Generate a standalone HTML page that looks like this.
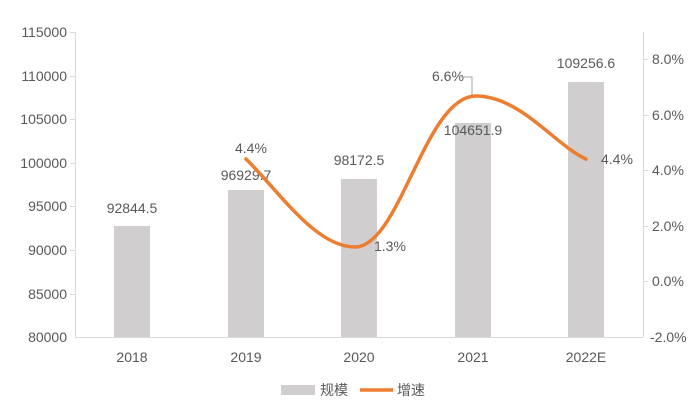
<!DOCTYPE html>
<html><head><meta charset="utf-8"><style>
body{margin:0;background:#fff}
svg text{font-family:"Liberation Sans","Noto Sans CJK SC",sans-serif;fill:#595959;font-size:14px}
</style></head><body>
<svg width="698" height="411" xmlns="http://www.w3.org/2000/svg">
<g stroke="#d9d9d9" stroke-width="1">
<line x1="75.5" y1="32" x2="75.5" y2="337"/>
<line x1="643.5" y1="32" x2="643.5" y2="337"/>
<line x1="75" y1="337.5" x2="643" y2="337.5"/>
<line x1="70" y1="32.5" x2="75" y2="32.5"/><line x1="70" y1="76.5" x2="75" y2="76.5"/><line x1="70" y1="119.5" x2="75" y2="119.5"/><line x1="70" y1="163.5" x2="75" y2="163.5"/><line x1="70" y1="206.5" x2="75" y2="206.5"/><line x1="70" y1="250.5" x2="75" y2="250.5"/><line x1="70" y1="294.5" x2="75" y2="294.5"/>
<line x1="643" y1="59.5" x2="648" y2="59.5"/><line x1="643" y1="115.5" x2="648" y2="115.5"/><line x1="643" y1="170.5" x2="648" y2="170.5"/><line x1="643" y1="226.5" x2="648" y2="226.5"/><line x1="643" y1="281.5" x2="648" y2="281.5"/>
</g>
<g fill="#d0cece">
<rect x="114" y="226" width="36" height="111"/>
<rect x="228" y="190" width="36" height="147"/>
<rect x="341" y="179" width="36" height="158"/>
<rect x="455" y="123" width="36" height="214"/>
<rect x="568" y="82" width="36" height="255"/>
</g>
<g text-anchor="end">
<text x="67" y="37">115000</text><text x="67" y="81">110000</text><text x="67" y="124">105000</text><text x="67" y="168">100000</text><text x="67" y="211">95000</text><text x="67" y="255">90000</text><text x="67" y="299">85000</text><text x="67" y="342">80000</text>
</g>
<g>
<text x="652" y="64">8.0%</text><text x="652" y="120">6.0%</text><text x="652" y="175">4.0%</text><text x="652" y="231">2.0%</text><text x="652" y="286">0.0%</text><text x="650" y="342">-2.0%</text>
</g>
<g text-anchor="middle">
<text x="132" y="362">2018</text><text x="246" y="362">2019</text><text x="359" y="362">2020</text><text x="473" y="362">2021</text><text x="586" y="362">2022E</text>
<text x="132" y="213">92844.5</text><text x="246" y="180">96929.7</text><text x="359" y="165">98172.5</text><text x="473" y="135">104651.9</text><text x="586" y="68">109256.6</text>
</g>
<text x="235" y="153">4.4%</text>
<text x="374" y="251">1.3%</text>
<text x="432" y="81">6.6%</text>
<text x="601" y="164">4.4%</text>
<polyline points="461,77 472,77 472,95" fill="none" stroke="#a6a6a6" stroke-width="1"/>
<path d="M246,159 C278,190 315,247 355,247 C400,247 425,96 476,96 C520,96 555,145 586,159" fill="none" stroke="#ed7d31" stroke-width="3.5" stroke-linecap="round"/>
<rect x="281" y="385" width="34" height="10" fill="#d0cece"/>
<text x="320" y="395">规模</text>
<line x1="360" y1="390" x2="393" y2="390" stroke="#ed7d31" stroke-width="3.5"/>
<text x="397" y="395">增速</text>
</svg>
</body></html>
